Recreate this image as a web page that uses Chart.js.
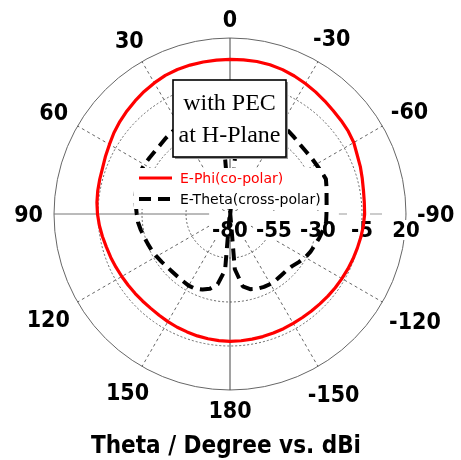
<!DOCTYPE html>
<html>
<head>
<meta charset="utf-8">
<script src="https://cdn.jsdelivr.net/npm/chart.js@4.4.1/dist/chart.umd.min.js"></script>
<style>
  html, body { margin: 0; padding: 0; background: #fff; }
  #wrap { width: 461px; height: 460px; position: relative; }
</style>
</head>
<body>
<div id="wrap"><canvas id="c"></canvas></div>
<script>
// Theta in degrees, listed clockwise from the top (positive theta runs counter-clockwise)
const thetaDeg = [
  0, -5, -10, -15, -20, -25, -30, -35, -40, -45, -50, -55, -60, -65, -70, -75, -80, -85,
  -90, -95, -100, -105, -110, -115, -120, -125, -130, -135, -140, -145, -150, -155, -160, -165, -170, -175,
  180, 175, 170, 165, 160, 155, 150, 145, 140, 135, 130, 125, 120, 115, 110, 105, 100, 95,
  90, 85, 80, 75, 70, 65, 60, 55, 50, 45, 40, 35, 30, 25, 20, 15, 10, 5
];

// E-Phi co-polar gain, dBi
const ePhiCo = [
  7.8, 7.9, 8.0, 7.8, 7.3, 6.5, 5.6, 4.7, 3.8, 3.0, 2.5, 2.0, 1.2, -0.3, -1.2, -2.2, -3.0, -3.4,
  -3.5, -3.9, -4.5, -5.1, -5.6, -6.1, -6.6, -7.0, -7.4, -7.8, -8.0, -8.2, -8.2, -8.1, -8.0, -7.9, -7.8, -7.7,
  -7.6, -7.8, -8.0, -8.3, -8.7, -9.0, -9.4, -9.8, -10.0, -9.9, -9.7, -9.4, -9.0, -8.5, -7.9, -7.3, -6.4, -5.5,
  -4.7, -4.1, -3.7, -3.4, -3.0, -2.0, -0.9, 0.5, 1.7, 2.8, 3.9, 5.0, 6.0, 6.9, 7.4, 7.6, 7.7, 7.8
];

// E-Theta cross-polar gain, dBi
const eThetaCross = [
  -82, -46, -35, -29, -25.5, -23.5, -22.5, -22.3, -23.2, -23.9, -24.1, -23.8, -23.5, -22.8, -22.0, -23.2, -24.3, -24.9,
  -25.2, -25.2, -26.4, -27.5, -28.6, -29.5, -30.6, -32.3, -33.9, -34.6, -34.6, -34.3, -34.1, -34.3, -34.8, -35.8, -38.3, -48.5,
  -82, -48, -39.5, -36.0, -34.3, -33.2, -33.0, -33.4, -33.6, -33.6, -33.3, -32.6, -31.8, -31.0, -30.3, -29.5, -28.5, -27.5,
  -27.0, -26.3, -25.5, -24.8, -24.0, -23.6, -23.8, -24.2, -24.4, -24.2, -23.5, -22.9, -22.6, -23.7, -25.5, -28.9, -34.5, -44
];

// Radial axis ticks, dBi
const radialTicks = [-80, -55, -30, -5, 20];
const angleLabelStep = 30;

const titleText = 'Theta / Degree vs. dBi';
const noteLines = ['with PEC', 'at H-Plane'];

const LABEL_FONT = "'DejaVu Sans Condensed', 'DejaVu Sans', sans-serif";
const LEGEND_FONT = "'DejaVu Sans', sans-serif";
const NOTE_FONT = "'Liberation Serif', 'DejaVu Serif', serif";

const isMajor = (i) => thetaDeg[i] % angleLabelStep === 0;

const polarDecor = {
  id: 'polarDecor',
  beforeDatasetsDraw(chart) {
    const s = chart.scales.r;
    const ctx = chart.ctx;
    ctx.save();
    ctx.font = `bold 22px ${LABEL_FONT}`;
    ctx.textAlign = 'center';
    ctx.textBaseline = 'alphabetic';
    const base = s.yCenter + 23;
    s.ticks.forEach((t) => {
      const label = String(t.value);
      const x = s.xCenter + s.getDistanceFromCenterForValue(t.value);
      const w = ctx.measureText(label).width;
      // the inner labels sit on a white plate that breaks the horizontal axis
      const top = t.value <= -30 ? s.yCenter - 3 : base - 17;
      ctx.fillStyle = '#fff';
      ctx.fillRect(x - w / 2 - 3, top, w + 6, base + 3 - top);
      ctx.fillStyle = '#000';
      ctx.fillText(label, x, base);
    });
    ctx.restore();
  },
  afterDatasetsDraw(chart) {
    const s = chart.scales.r;
    const ctx = chart.ctx;
    const cx = s.xCenter, cy = s.yCenter;
    ctx.save();

    // note box
    const bx = cx - 57, by = cy - 134, bw = 113, bh = 77;
    ctx.fillStyle = '#9a9a9a';
    ctx.fillRect(bx + 2, by + 2, bw, bh);
    ctx.fillStyle = '#fff';
    ctx.fillRect(bx, by, bw, bh);
    ctx.strokeStyle = '#000';
    ctx.lineWidth = 1.6;
    ctx.strokeRect(bx, by, bw, bh);
    ctx.fillStyle = '#000';
    ctx.font = `24px ${NOTE_FONT}`;
    ctx.textAlign = 'center';
    ctx.textBaseline = 'alphabetic';
    ctx.fillText(noteLines[0], bx + bw / 2, by + 30);
    ctx.fillText(noteLines[1], bx + bw / 2, by + 61.5);

    // legend
    const lx = cx - 96, ly = cy - 46, lw = 188, lh = 41;
    ctx.fillStyle = '#fff';
    ctx.fillRect(lx, ly, lw, lh);
    ctx.font = `14px ${LEGEND_FONT}`;
    ctx.textAlign = 'left';
    ctx.textBaseline = 'middle';
    chart.data.datasets.forEach((ds, k) => {
      const y = cy - 36 + k * 21;
      ctx.save();
      ctx.strokeStyle = ds.borderColor;
      ctx.lineWidth = ds.borderWidth;
      ctx.setLineDash(ds.borderDash || []);
      ctx.beginPath();
      ctx.moveTo(lx + 5, y);
      ctx.lineTo(lx + 38, y);
      ctx.stroke();
      ctx.restore();
      ctx.fillStyle = ds.borderColor;
      ctx.fillText(ds.label, lx + 46, y + 1);
    });

    // theta labels round the outer ring
    ctx.fillStyle = '#000';
    ctx.font = `bold 23px ${LABEL_FONT}`;
    ctx.textAlign = 'center';
    ctx.textBaseline = 'alphabetic';
    const capH = 16.5;
    chart.data.labels.forEach((theta, i) => {
      if (!isMajor(i)) return;
      const text = String(theta);
      const w = ctx.measureText(text).width;
      const a = s.getIndexAngle(i);
      const ext = Math.abs(Math.sin(a)) * w / 2 + Math.abs(Math.cos(a)) * capH / 2;
      const p = s.getPointPosition(i, s.drawingArea + 11 + ext);
      ctx.fillText(text, p.x, p.y + capH / 2);
    });

    // axis title
    ctx.font = `bold 24px ${LABEL_FONT}`;
    ctx.fillText(titleText, cx - 4, 453);
    ctx.restore();
  }
};

new Chart(document.getElementById('c'), {
  type: 'radar',
  data: {
    labels: thetaDeg,
    datasets: [
      {
        label: 'E-Phi(co-polar)',
        data: ePhiCo,
        borderColor: '#ff0000',
        borderWidth: 3.2,
        borderDash: [],
        fill: false,
        pointRadius: 0,
        tension: 0
      },
      {
        label: 'E-Theta(cross-polar)',
        data: eThetaCross,
        borderColor: '#000000',
        borderWidth: 4,
        borderDash: [12, 7],
        fill: false,
        pointRadius: 0,
        tension: 0
      }
    ]
  },
  options: {
    responsive: true,
    maintainAspectRatio: false,
    animation: false,
    layout: { padding: { left: 54, right: 54, top: 38, bottom: 69 } },
    plugins: { legend: { display: false }, title: { display: false }, tooltip: { enabled: false } },
    elements: { line: { borderJoinStyle: 'round' } },
    scales: {
      r: {
        min: radialTicks[0],
        max: radialTicks[radialTicks.length - 1],
        ticks: { display: false, stepSize: radialTicks[1] - radialTicks[0] },
        pointLabels: { display: false },
        grid: {
          circular: true,
          color: (c) => (c.index === radialTicks.length - 1 ? '#666' : '#666'),
          lineWidth: 1
        },
        border: {
          dash: (c) => (c.index === radialTicks.length - 1 ? [] : [2, 2])
        },
        angleLines: {
          display: true,
          lineWidth: (c) => (isMajor(c.index) ? 1 : 0),
          color: (c) => {
            const t = thetaDeg[c.index];
            if (t === 0 || t === 180) return '#444';
            if (t === 90) return '#777';
            if (t === -90) return '#999';
            return '#666';
          },
          borderDash: (c) => {
            const t = thetaDeg[c.index];
            if (t === 0 || t === 180 || t === 90) return [];
            if (t === -90) return [12, 23];
            return [3, 3];
          }
        }
      }
    }
  },
  plugins: [polarDecor]
});
</script>
</body>
</html>
